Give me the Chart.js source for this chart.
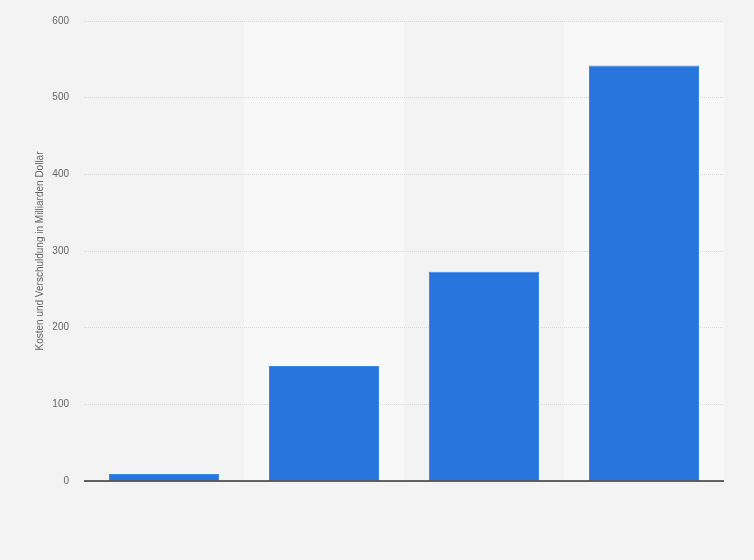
<!DOCTYPE html>
<html>
<head>
<meta charset="utf-8">
<script src="https://cdn.jsdelivr.net/npm/chart.js@4/dist/chart.umd.min.js"></script>
<style>
  html, body { margin: 0; padding: 0; background: #f3f3f3; }
  #wrap { width: 754px; height: 560px; }
</style>
</head>
<body>
<div id="wrap"><canvas id="grafico"></canvas></div>
<script>
const categorias = ["1", "2", "3", "4"];
const valores = [9, 150, 273, 542];
const ticksY = [0, 100, 200, 300, 400, 500, 600];
const tituloY = "Kosten und Verschuldung in Milliarden Dollar";

// franjas claras en columnas alternas + linea del eje
const fondoPlugin = {
  id: "fondo",
  beforeDraw(chart) {
    const { ctx, chartArea, scales } = chart;
    const x = scales.x;
    const ancho = (chartArea.right - chartArea.left) / categorias.length;
    ctx.save();
    ctx.fillStyle = "#f8f8f8";
    categorias.forEach((c, i) => {
      if (i % 2 === 1) {
        const cx = x.getPixelForValue(i);
        ctx.fillRect(cx - ancho / 2, chartArea.top, ancho, chartArea.bottom - chartArea.top);
      }
    });
    ctx.restore();
  },
  afterDatasetsDraw(chart) {
    const { ctx, chartArea, scales } = chart;
    const y0 = scales.y.getPixelForValue(0);
    ctx.save();
    ctx.strokeStyle = "#333";
    ctx.lineWidth = 1.5;
    ctx.beginPath();
    ctx.moveTo(chartArea.left, y0);
    ctx.lineTo(chartArea.right, y0);
    ctx.stroke();
    ctx.restore();
  }
};

new Chart(document.getElementById("grafico").getContext("2d"), {
  type: "bar",
  data: {
    labels: categorias,
    datasets: [{
      data: valores,
      backgroundColor: "#2876dd",
      borderColor: "#3d86e4",
      borderWidth: 1,
      barPercentage: 0.6875,
      categoryPercentage: 1
    }]
  },
  options: {
    responsive: true,
    maintainAspectRatio: false,
    animation: false,
    layout: { padding: { left: 0, right: 30, top: 20, bottom: 79 } },
    plugins: { legend: { display: false }, tooltip: { enabled: false } },
    scales: {
      x: { display: false },
      y: {
        min: 0,
        max: 600,
        afterBuildTicks(axis) { axis.ticks = ticksY.map(v => ({ value: v })); },
        afterFit(axis) { axis.width = 84; },
        border: { display: false, dash: [1, 1] },
        grid: { color: "#d9d9d9", drawTicks: false },
        ticks: { color: "#666", padding: 15, font: { family: "'Liberation Sans', Arial", size: 10 } },
        title: {
          display: true,
          text: tituloY,
          color: "#666",
          padding: { top: 34, bottom: 0 },
          font: { family: "'Liberation Sans', Arial", size: 10 }
        }
      }
    }
  },
  plugins: [fondoPlugin]
});
</script>
</body>
</html>
